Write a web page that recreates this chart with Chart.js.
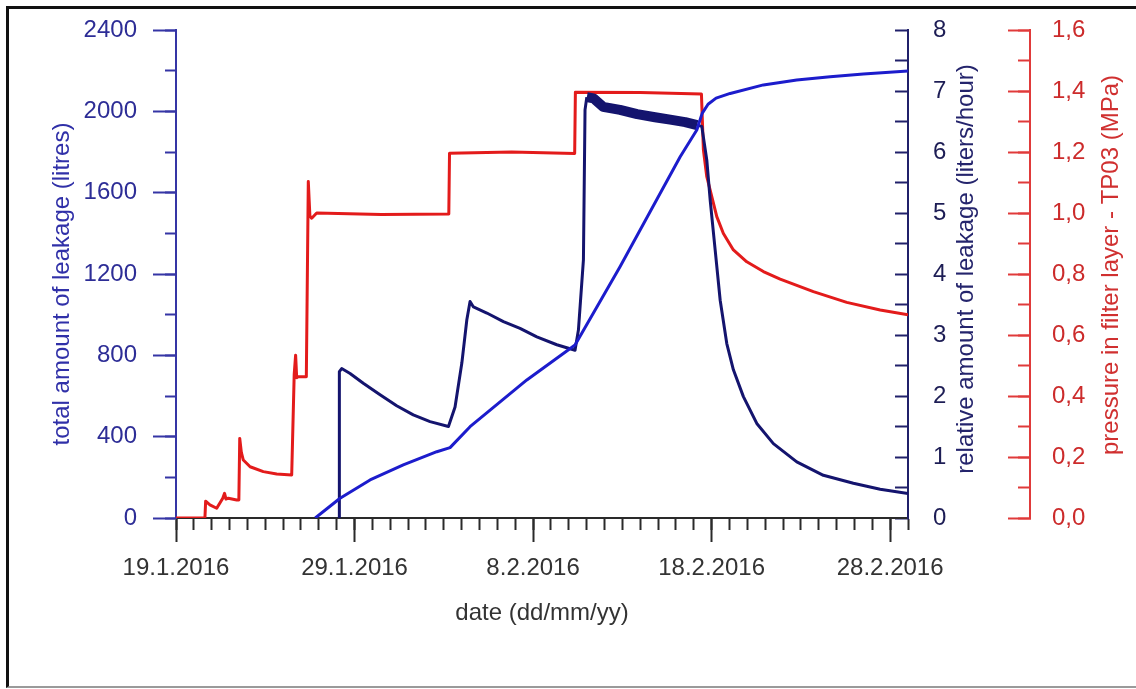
<!DOCTYPE html>
<html>
<head>
<meta charset="utf-8">
<script src="https://cdn.jsdelivr.net/npm/chart.js@4.4.1/dist/chart.umd.min.js"></script>
<style>
  html, body { margin: 0; padding: 0; background: #fff; }
  #wrap { position: relative; width: 1136px; height: 689px; overflow: hidden; }
  #chart { position: absolute; left: 0; top: 0; }
  #frame { position: absolute; left: 6px; top: 6px; width: 1150px; height: 677px;
           border-left: 3px solid #111; border-top: 3px solid #111; border-bottom: 2px solid #9a9a9a; }
</style>
</head>
<body>
<div id="wrap">
  <canvas id="chart" width="1136" height="689"></canvas>
  <div id="frame"></div>
</div>
<script>
// x values are days counted from 19.1.2016
const xTickLabels = ['19.1.2016', '29.1.2016', '8.2.2016', '18.2.2016', '28.2.2016'];

// total amount of leakage (litres) - left axis
const totalDays = [7.80, 9.19, 10.87, 12.73, 14.61, 15.35, 16.47, 19.65, 22.35, 24.87, 28.24, 29.17,
                   29.47, 29.80, 30.25, 31.04, 32.90, 34.77, 36.64, 38.50, 41];
const totalLitres = [0, 97, 187, 261, 326, 346, 449, 679, 851, 1236, 1777, 1908,
                     1990, 2035, 2065, 2088, 2130, 2154, 2170, 2184, 2198];

// relative amount of leakage (liters/hour) - first right axis
const rateDays = [9.13, 9.15, 9.28, 9.75, 10.49, 11.43, 12.36, 13.29, 14.23, 15.26, 15.63, 16.01, 16.29,
                  16.47, 16.66, 17.41, 18.34, 19.27, 20.21, 21.33, 22.35, 22.54, 22.82, 22.91, 23.01,
                  23.38, 23.92, 24.87, 25.83, 26.83, 27.68, 28.52, 29.19, 29.45, 29.73, 29.92, 30.20,
                  30.48, 30.85, 31.22, 31.78, 32.53, 33.46, 34.77, 36.26, 37.94, 39.44, 41];
const rateLph = [0, 2.40, 2.45, 2.37, 2.21, 2.02, 1.84, 1.69, 1.58, 1.50, 1.82, 2.54, 3.25,
                 3.55, 3.46, 3.36, 3.22, 3.11, 2.97, 2.84, 2.75, 3.08, 4.23, 6.69, 6.90,
                 6.88, 6.74, 6.69, 6.62, 6.57, 6.53, 6.49, 6.44, 6.42, 5.87, 5.21, 4.39,
                 3.57, 2.86, 2.43, 1.99, 1.55, 1.22, 0.92, 0.70, 0.57, 0.47, 0.40];

// pressure in filter layer TP03 (MPa) - second right axis
const pressureDays = [0, 1.62, 1.66, 1.90, 2.28, 2.62, 2.72, 2.80, 2.93, 3.40, 3.52, 3.57, 3.66, 3.77,
                      4.15, 4.89, 5.64, 6.48, 6.62, 6.70, 6.76, 6.85, 7.30, 7.41, 7.50, 7.60, 7.88,
                      11.5, 15.28, 15.32, 18.8, 22.33, 22.37, 26.0, 29.43, 29.54, 29.73, 30.01, 30.29,
                      30.66, 31.22, 31.97, 32.90, 33.84, 35.70, 37.57, 39.44, 41];
const pressureMPa = [0, 0, 0.055, 0.043, 0.032, 0.065, 0.081, 0.062, 0.065, 0.059, 0.059, 0.261, 0.215, 0.19,
                     0.168, 0.152, 0.144, 0.141, 0.47, 0.534, 0.46, 0.463, 0.463, 1.103, 0.99, 0.983, 1.0,
                     0.995, 0.997, 1.196, 1.2, 1.195, 1.396, 1.395, 1.39, 1.207, 1.119, 1.054, 0.988,
                     0.933, 0.879, 0.840, 0.808, 0.783, 0.742, 0.707, 0.682, 0.666];

const FONT = { family: '"Liberation Sans", Arial, sans-serif', size: 24 };
const BLUE = '#1c1ccc', NAVY = '#14146e', RED = '#e31b1b';

function pts(xs, ys) { return xs.map((x, i) => ({ x: x, y: ys[i] })); }
// vertical axes: fixed width, and no extra room reserved above/below for labels
function fixWidth(w) {
  return scale => { scale.width = w; scale.paddingTop = 0; scale.paddingBottom = 0; };
}
function fixHeight(h) { return scale => { scale.height = h; }; }
function noLabel() { return ''; }

const axisTitles = {
  id: 'axisTitles',
  afterDraw(chart) {
    const c = chart.ctx;
    const vertical = (text, x, y, color) => {
      c.save();
      c.translate(x, y);
      c.rotate(-Math.PI / 2);
      c.fillStyle = color;
      c.fillText(text, 0, 0);
      c.restore();
    };
    c.save();
    c.font = '24px "Liberation Sans", Arial, sans-serif';
    c.textAlign = 'center';
    c.textBaseline = 'middle';
    vertical('total amount of leakage (litres)', 62, 284, '#3030a8');
    vertical('relative amount of leakage (liters/hour)', 966, 269, '#24246c');
    vertical('pressure in filter layer - TP03 (MPa)', 1111, 265, '#d03030');
    c.fillStyle = '#333';
    c.fillText('date (dd/mm/yy)', 542, 613);
    c.restore();
  }
};

new Chart(document.getElementById('chart'), {
  type: 'line',
  data: {
    datasets: [
      { label: 'total', data: pts(totalDays, totalLitres), xAxisID: 'x', yAxisID: 'yLeft',
        borderColor: BLUE, borderWidth: 3 },
      { label: 'rate', data: pts(rateDays, rateLph), xAxisID: 'x', yAxisID: 'yNavy',
        borderColor: NAVY, borderWidth: 3,
        segment: { borderWidth: ctx => (ctx.p0.parsed.x >= 23 && ctx.p1.parsed.x <= 29.2) ? 10 : 3 } },
      { label: 'pressure', data: pts(pressureDays, pressureMPa), xAxisID: 'x', yAxisID: 'yRed',
        borderColor: RED, borderWidth: 3 }
    ]
  },
  options: {
    responsive: false,
    animation: false,
    devicePixelRatio: 1,
    layout: { padding: { top: 30, left: 0, right: 0, bottom: 0 } },
    elements: { point: { radius: 0 }, line: { tension: 0, fill: false, borderJoinStyle: 'round' } },
    plugins: { legend: { display: false }, tooltip: { enabled: false } },
    scales: {
      x: {
        type: 'linear', position: 'bottom', min: 0, max: 41, weight: 1, afterFit: fixHeight(171),
        border: { color: '#2a2a2a', width: 2 },
        grid: { drawOnChartArea: false, tickLength: 24, tickWidth: 2, tickColor: '#2a2a2a' },
        ticks: { stepSize: 10, includeBounds: false, autoSkip: false, maxRotation: 0, padding: 12,
                 color: '#333', font: FONT, callback: v => xTickLabels[v / 10] }
      },
      xMinor: {
        type: 'linear', position: 'bottom', min: 0, max: 41, weight: 0, afterFit: fixHeight(0),
        border: { color: '#2a2a2a', width: 2 },
        grid: { drawOnChartArea: false, tickLength: 12, tickWidth: 2, tickColor: '#2a2a2a' },
        ticks: { stepSize: 1, autoSkip: false, maxRotation: 0, callback: noLabel }
      },
      yLeft: {
        type: 'linear', position: 'left', min: 0, max: 2400, weight: 1, afterFit: fixWidth(176),
        border: { color: '#3535a5', width: 2 },
        grid: { drawOnChartArea: false, tickLength: 23, tickWidth: 2, tickColor: '#3535a5' },
        ticks: { stepSize: 400, autoSkip: false, padding: 16, color: '#2d2d96', font: FONT,
                 callback: v => String(v) }
      },
      yLeftMinor: {
        type: 'linear', position: 'left', min: 0, max: 2400, weight: 0, afterFit: fixWidth(0),
        border: { color: '#3535a5', width: 2 },
        grid: { drawOnChartArea: false, tickLength: 11, tickWidth: 2, tickColor: '#3535a5' },
        ticks: { stepSize: 200, autoSkip: false, callback: noLabel }
      },
      yNavy: {
        type: 'linear', position: 'right', min: 0, max: 8, weight: 0, afterFit: fixWidth(122),
        border: { color: '#20206a', width: 2 },
        grid: { drawOnChartArea: false, tickLength: -13, tickWidth: 2, tickColor: '#20206a' },
        ticks: { stepSize: 0.5, autoSkip: false, padding: 38, color: '#1d1d55', font: FONT,
                 callback: v => Number.isInteger(v) ? String(v) : '' }
      },
      yRedMinor: {
        type: 'linear', position: 'right', min: 0, max: 1.6, weight: 1, afterFit: fixWidth(0),
        border: { color: '#e03a3a', width: 2 },
        grid: { drawOnChartArea: false, tickLength: -12, tickWidth: 2, tickColor: '#e03a3a' },
        ticks: { stepSize: 0.1, autoSkip: false, callback: noLabel }
      },
      yRed: {
        type: 'linear', position: 'right', min: 0, max: 1.6, weight: 2, afterFit: fixWidth(106),
        border: { color: '#e03a3a', width: 2 },
        grid: { drawOnChartArea: false, tickLength: -22, tickWidth: 2, tickColor: '#e03a3a' },
        ticks: { stepSize: 0.2, autoSkip: false, padding: 44, color: '#cc2b2b', font: FONT,
                 callback: v => v.toFixed(1).replace('.', ',') }
      }
    }
  },
  plugins: [axisTitles]
});
</script>
</body>
</html>
